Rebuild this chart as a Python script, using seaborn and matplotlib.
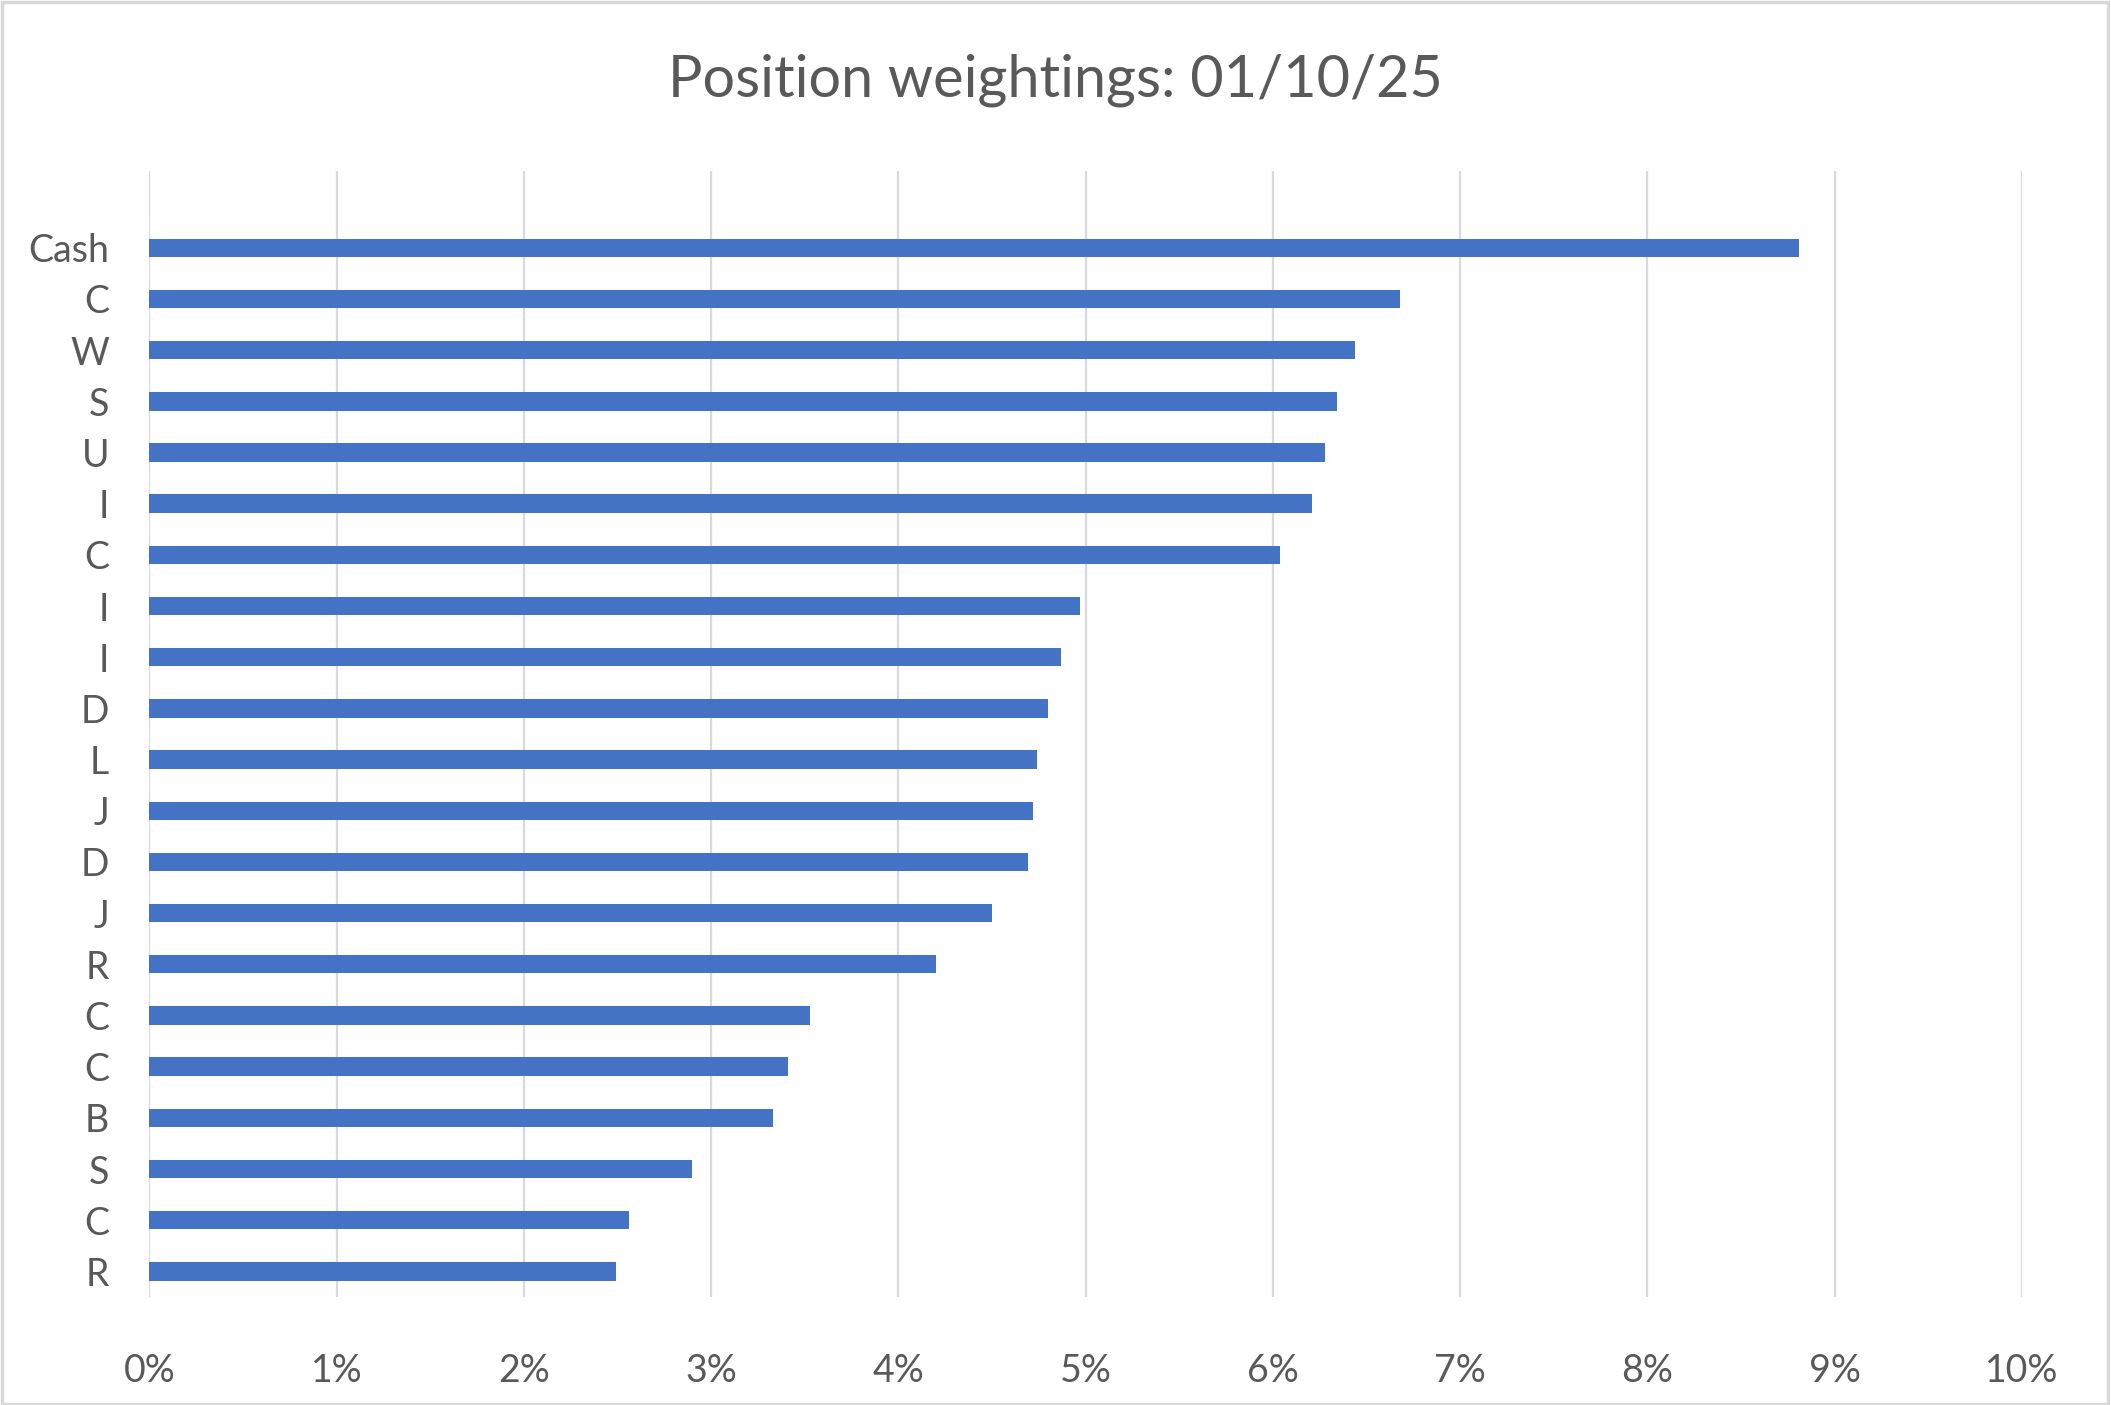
import pandas as pd
import seaborn as sns
import matplotlib.pyplot as plt
from matplotlib.patches import Rectangle
from matplotlib.ticker import FuncFormatter


# data, top to bottom
labels = ["Cash", "C", "W", "S", "U", "I", "C", "I", "I", "D", "L",
          "J", "D", "J", "R", "C", "C", "B", "S", "C", "R"]
weights = [8.81, 6.68, 6.44, 6.34, 6.28, 6.21, 6.04, 4.97, 4.87, 4.80, 4.74,
           4.72, 4.69, 4.50, 4.20, 3.53, 3.41, 3.33, 2.90, 2.56, 2.49]
x_ticks = list(range(0, 11))
title = "Position weightings: 01/10/25"

BAR_BLUE = "#4472C4"
TEXT_GREY = "#595959"
GRID_GREY = "#D9D9D9"


def build_frame() -> pd.DataFrame:
    # labels repeat, so bars are keyed by slot rather than by name
    return pd.DataFrame({"slot": range(len(labels)), "label": labels, "weight": weights})


def draw(df: pd.DataFrame, name: str) -> None:
    sns.set_theme(style="white")
    plt.rcParams["font.family"] = ["Lato", "DejaVu Sans"]

    f, ax = plt.subplots(figsize=(21.11, 14.05), dpi=100)
    f.subplots_adjust(left=0.0708, right=0.9578, top=0.8783, bottom=0.0769)

    sns.barplot(
        data=df,
        x="weight",
        y="slot",
        orient="h",
        color=BAR_BLUE,
        saturation=1,
        width=0.36,
        edgecolor="none",
        ax=ax,
    )

    # the chart leaves one empty slot above the first bar
    ax.set_ylim(len(labels) - 0.5, -1.5)
    ax.set_xlim(0, 10)
    ax.set_xticks(x_ticks)
    ax.xaxis.set_major_formatter(FuncFormatter(lambda v, _: f"{v:.0f}%"))
    ax.set_yticks(range(len(labels)))
    ax.set_yticklabels(labels)

    ax.xaxis.grid(True, color=GRID_GREY, linewidth=1.6)
    ax.set_axisbelow(True)
    sns.despine(left=True, bottom=True, right=True, top=True)
    ax.tick_params(axis="both", length=0, labelsize=27, labelcolor=TEXT_GREY)
    ax.tick_params(axis="y", pad=29)
    ax.tick_params(axis="x", pad=40)
    ax.set(xlabel="", ylabel="")

    f.text(0.5, 1 - 80 / 1405, title, ha="center", va="center",
           fontsize=41.5, color=TEXT_GREY)

    # light frame round the whole chart
    f.patches.append(Rectangle((0.0008, 0.001), 0.9976, 0.9975, transform=f.transFigure,
                               fill=False, edgecolor=GRID_GREY, linewidth=2.5))

    f.savefig(f"{name}.png", dpi=100)


def run():
    df = build_frame()
    draw(df, "out")


if __name__ == "__main__":
    run()
